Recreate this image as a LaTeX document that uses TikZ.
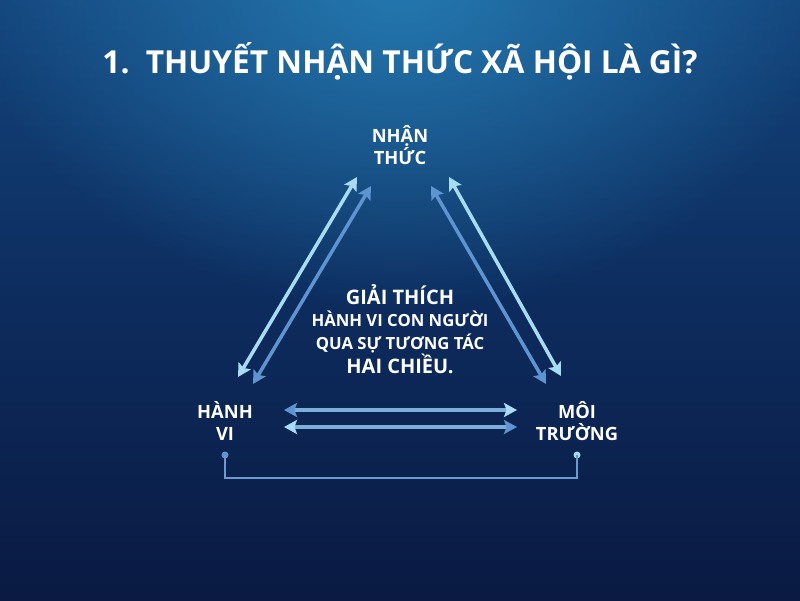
\documentclass[tikz,border=0pt]{standalone}
\usepackage{fontspec}
\setmainfont{Open Sans}
\usepackage{xcolor}
\usepackage{tikz}
\usetikzlibrary{arrows.meta}
\usetikzlibrary{positioning, fadings}
\definecolor{bgtop}{HTML}{13457C}
\definecolor{bgmid}{HTML}{0D2C5E}
\definecolor{bgbottom}{HTML}{0A1A42}
\definecolor{glowblue}{HTML}{2479B0}
\definecolor{lightarrow}{HTML}{A8DCF4}
\definecolor{midarrow}{HTML}{5E94D0}
\definecolor{bracketblue}{HTML}{6C9BD2}
\tikzfading[name = glow fade, inner color = transparent!0, outer color = transparent!100]
\tikzset{
title/.style = { text = white, font = \bfseries\fontsize{31.7}{36}\selectfont, inner sep = 0pt },
corner/.style = { text = white, font = \bfseries\fontsize{18.3}{22}\selectfont, align = center, inner sep = 0pt },
middle/.style = { text = white, font = \bfseries\fontsize{16.7}{22.5}\selectfont, align = center, inner sep = 0pt },
light link/.style = { draw = lightarrow, line width = 3.5pt, {Stealth[length = 13pt, width = 14pt, inset = 2.5pt]}-{Stealth[length = 13pt, width = 14pt, inset = 2.5pt]} },
mid link/.style = { draw = midarrow, line width = 3.5pt, {Stealth[length = 13pt, width = 14pt, inset = 2.5pt]}-{Stealth[length = 13pt, width = 14pt, inset = 2.5pt]} },
two tone/.style args = {#1, #2}{ draw = bracketblue!70!lightarrow, line width = 3.5pt, {Stealth[length = 13pt, width = 14pt, inset = 2.5pt, color = #1]}-{Stealth[length = 13pt, width = 14pt, inset = 2.5pt, color = #2]} },
dot/.style = { circle, fill = #1, minimum size = 7pt, inner sep = 0pt },
bracket/.style = { draw = bracketblue, line width = 1.5pt },
}
\newcommand{\bigline}[1]{{\fontsize{20}{22.5}\selectfont #1}}

\begin{document}
\begin{tikzpicture}[x = 1pt, y = 1pt]
    \useasboundingbox (0, 0) rectangle (800, 600);
    % background
    \shade[top color = bgtop, bottom color = bgbottom, middle color = bgmid] (0, 0) rectangle (800, 600);
    \begin{scope}
        \clip (0, 0) rectangle (800, 600);
        \fill[glowblue, path fading = glow fade] (400, 620) ellipse (430 and 330);
    \end{scope}
    \node[title] (title) at (400, 539) {1.\, THUYẾT NHẬN THỨC XÃ HỘI LÀ GÌ?};
    \node[corner] (nhanthuc) at (400, 455) {NHẬN\\THỨC};
    \node[corner] (hanhvi) at (225, 179) {HÀNH\\VI};
    \node[corner] (moitruong) at (577, 179) {MÔI\\TRƯỜNG};
    \node[middle] (giaithich) at (400, 271) {\bigline{GIẢI THÍCH}\\
        HÀNH VI CON NGƯỜI\\
        QUA SỰ TƯƠNG TÁC\\
        \bigline{HAI CHIỀU.}};
    % arrow ends
    \coordinate (nt-left-a) at (357, 423);
    \coordinate (hv-top-a) at (238, 223);
    \coordinate (nt-left-b) at (371, 414);
    \coordinate (hv-top-b) at (253, 216);
    \coordinate (nt-right-a) at (449, 423);
    \coordinate (mt-top-a) at (561, 224);
    \coordinate (nt-right-b) at (431, 414);
    \coordinate (mt-top-b) at (546, 216);
    \coordinate (hv-right-a) at (284, 190);
    \coordinate (mt-left-a) at (517, 190);
    \coordinate (hv-right-b) at (284, 173);
    \coordinate (mt-left-b) at (517, 173);
    \draw[light link] (nt-left-a) -- (hv-top-a);
    \draw[mid link] (nt-left-b) -- (hv-top-b);
    \draw[light link] (nt-right-a) -- (mt-top-a);
    \draw[mid link] (nt-right-b) -- (mt-top-b);
    \draw[two tone = {midarrow, lightarrow}] (hv-right-a) -- (mt-left-a);
    \draw[two tone = {lightarrow, midarrow}] (hv-right-b) -- (mt-left-b);
    % bracket
    \node[dot = midarrow] (hv-dot) at (225, 145) {};
    \node[dot = lightarrow] (mt-dot) at (577, 145) {};
    \draw[bracket] (hv-dot.center) -- (225, 122) -| (mt-dot.center);
\end{tikzpicture}
\end{document}
